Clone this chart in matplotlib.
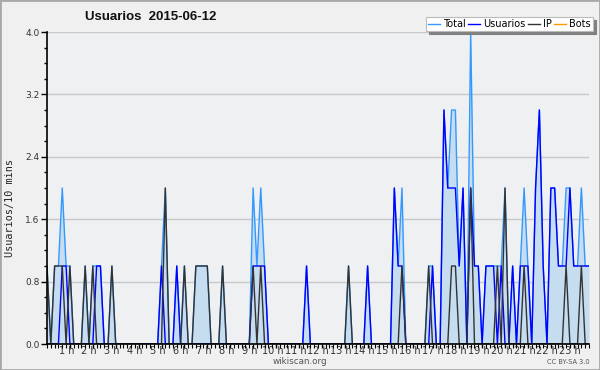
import numpy as np
import matplotlib
matplotlib.use("Agg")
import matplotlib.pyplot as plt
from matplotlib.patches import Rectangle
from matplotlib.transforms import ScaledTranslation
from matplotlib.ticker import MultipleLocator

# ---- data (10-minute intervals, 2015-06-12) ----
total = [
    1, 0, 1, 1, 2, 1, 1, 0, 0, 0,
    1, 0, 1, 1, 1, 0, 0, 1, 0, 0,
    0, 0, 0, 0, 0, 0, 0, 0, 0, 0,
    1, 2, 0, 0, 1, 0, 1, 0, 0, 1,
    1, 1, 1, 0, 0, 0, 1, 0, 0, 0,
    0, 0, 0, 0, 2, 1, 2, 1, 0, 0,
    0, 0, 0, 0, 0, 0, 0, 0, 1, 0,
    0, 0, 0, 0, 0, 0, 0, 0, 0, 1,
    0, 0, 0, 0, 1, 0, 0, 0, 0, 0,
    0, 2, 1, 2, 0, 0, 0, 0, 0, 0,
    1, 1, 0, 0, 3, 2, 3, 3, 1, 2,
    0, 4, 1, 1, 0, 1, 1, 1, 1, 1,
    2, 0, 1, 0, 1, 2, 1, 0, 2, 3,
    1, 0, 2, 2, 1, 1, 2, 2, 1, 1,
    2, 1, 1]

usuarios = [
    0, 0, 0, 0, 1, 1, 0, 0, 0, 0,
    0, 0, 0, 1, 1, 0, 0, 0, 0, 0,
    0, 0, 0, 0, 0, 0, 0, 0, 0, 0,
    1, 0, 0, 0, 1, 0, 0, 0, 0, 0,
    0, 0, 0, 0, 0, 0, 0, 0, 0, 0,
    0, 0, 0, 0, 1, 1, 1, 1, 0, 0,
    0, 0, 0, 0, 0, 0, 0, 0, 1, 0,
    0, 0, 0, 0, 0, 0, 0, 0, 0, 0,
    0, 0, 0, 0, 1, 0, 0, 0, 0, 0,
    0, 2, 1, 1, 0, 0, 0, 0, 0, 0,
    0, 1, 0, 0, 3, 2, 2, 2, 1, 2,
    0, 2, 1, 1, 0, 1, 1, 1, 0, 1,
    0, 0, 1, 0, 1, 1, 1, 0, 2, 3,
    1, 0, 2, 2, 1, 1, 1, 2, 1, 1,
    1, 1, 1]

ip = [
    1, 0, 1, 1, 1, 0, 1, 0, 0, 0,
    1, 0, 1, 0, 0, 0, 0, 1, 0, 0,
    0, 0, 0, 0, 0, 0, 0, 0, 0, 0,
    0, 2, 0, 0, 0, 0, 1, 0, 0, 1,
    1, 1, 1, 0, 0, 0, 1, 0, 0, 0,
    0, 0, 0, 0, 1, 0, 1, 0, 0, 0,
    0, 0, 0, 0, 0, 0, 0, 0, 0, 0,
    0, 0, 0, 0, 0, 0, 0, 0, 0, 1,
    0, 0, 0, 0, 0, 0, 0, 0, 0, 0,
    0, 0, 0, 1, 0, 0, 0, 0, 0, 0,
    1, 0, 0, 0, 0, 0, 1, 1, 0, 0,
    0, 2, 0, 0, 0, 0, 0, 0, 1, 0,
    2, 0, 0, 0, 0, 1, 0, 0, 0, 0,
    0, 0, 0, 0, 0, 0, 1, 0, 0, 0,
    1, 0, 0]

bots = [
    0, 0, 0, 0, 0, 0, 0, 0, 0, 0,
    0, 0, 0, 0, 0, 0, 0, 0, 0, 0,
    0, 0, 0, 0, 0, 0, 0, 0, 0, 0,
    0, 0, 0, 0, 0, 0, 0, 0, 0, 0,
    0, 0, 0, 0, 0, 0, 0, 0, 0, 0,
    0, 0, 0, 0, 0, 0, 0, 0, 0, 0,
    0, 0, 0, 0, 0, 0, 0, 0, 0, 0,
    0, 0, 0, 0, 0, 0, 0, 0, 0, 0,
    0, 0, 0, 0, 0, 0, 0, 0, 0, 0,
    0, 0, 0, 0, 0, 0, 0, 0, 0, 0,
    0, 0, 0, 0, 0, 0, 0, 0, 0, 0,
    0, 0, 0, 0, 0, 0, 0, 0, 0, 0,
    0, 0, 0, 0, 0, 0, 0, 0, 0, 0,
    0, 0, 0, 0, 0, 0, 0, 0, 0, 0,
    0, 0, 0]

hour_labels = ["1 h", "2 h", "3 h", "4 h", "5 h", "6 h", "7 h", "8 h",
               "9 h", "10 h", "11 h", "12 h", "13 h", "14 h", "15 h", "16 h",
               "17 h", "18 h", "19 h", "20 h", "21 h", "22 h", "23 h"]
y_ticks = [0.0, 0.8, 1.6, 2.4, 3.2, 4.0]
y_tick_labels = ["0.0", "0.8", "1.6", "2.4", "3.2", "4.0"]

title = "Usuarios  2015-06-12"
ylabel = "Usuarios/10 mins"

# ---- figure ----
W, H = 600, 370
fig = plt.figure(figsize=(W / 100, H / 100), dpi=100)
fig.patch.set_facecolor("#f0f0f0")

left, right, top, bottom = 47, 589, 32, 344
ax = fig.add_axes([left / W, 1 - bottom / H, (right - left) / W, (bottom - top) / H])
ax.set_facecolor("#eff0f2")

x = np.arange(len(total))

for yt in y_ticks[1:]:
    ax.axhline(yt, color="#c8c8c8", lw=1, zorder=1)

ax.fill_between(x, 0, total, color="#c6dcef", lw=0, zorder=2)
ax.plot(x, total, color="#3399ff", lw=1, zorder=3, label="Total")
ax.plot(x, usuarios, color="#0000ff", lw=1, zorder=4, label="Usuarios")
ax.plot(x, ip, color="#333333", lw=1, zorder=5, label="IP")
ax.plot(x, bots, color="#ff9900", lw=1, zorder=1.5, label="Bots")

ax.set_xlim(0, len(total) - 1)
ax.set_ylim(0, 4.0)

for s in ["top", "right"]:
    ax.spines[s].set_visible(False)
for s in ["left", "bottom"]:
    ax.spines[s].set_color("black")
    ax.spines[s].set_linewidth(1.2)
    ax.spines[s].set_zorder(6)

ax.set_yticks(y_ticks)
ax.set_yticklabels(y_tick_labels)
ax.yaxis.set_minor_locator(MultipleLocator(0.2))
ax.tick_params(axis="y", which="major", length=4.5, width=1, color="black",
               labelsize=6.5, labelcolor="#333333", pad=1)
ax.tick_params(axis="y", which="minor", length=2.5, width=1, color="black")

ax.set_xticks([6 * (i + 1) for i in range(len(hour_labels))])
ax.set_xticklabels(hour_labels)
ax.xaxis.set_minor_locator(MultipleLocator(1))
ax.tick_params(axis="x", which="major", length=3, width=1, color="black",
               labelsize=7, labelcolor="#333333", pad=-1.5)
ax.tick_params(axis="x", which="minor", length=3, width=0.8, color="black")
offset = ScaledTranslation(-3.5 / 100, 0, fig.dpi_scale_trans)
for lab in ax.get_xticklabels():
    lab.set_transform(lab.get_transform() + offset)

fig.text(10 / W, 1 - 208 / H, ylabel, rotation=90, ha="center", va="center",
         fontsize=7.3, family="DejaVu Sans Mono", color="#222222")
fig.text(85 / W, 1 - 17 / H, title, ha="left", va="center",
         fontsize=9.5, fontweight="bold", family="Liberation Sans", color="#111111")
fig.text(300 / W, 1 - 362 / H, "wikiscan.org", ha="center", va="center",
         fontsize=6.3, color="#555555")
fig.text(590 / W, 1 - 362 / H, "CC BY-SA 3.0", ha="right", va="center",
         fontsize=4.8, color="#555555")

leg = ax.legend(loc="upper right", bbox_to_anchor=(593 / W, 1 - 17 / H),
                bbox_transform=fig.transFigure, ncol=4, fontsize=7,
                frameon=True, fancybox=False, shadow={"color": "#808080", "alpha": 1},
                handlelength=1.2, handletextpad=0.35, columnspacing=0.25,
                borderpad=0.2, borderaxespad=0)
leg.get_frame().set_facecolor("white")
leg.get_frame().set_edgecolor("#bbbbbb")
leg.get_frame().set_linewidth(0.8)
leg.set_zorder(10)

fig.patches.append(Rectangle((0, 0), 1, 1, transform=fig.transFigure, fill=False,
                             edgecolor="#a8a8a8", lw=2))

fig.savefig("out.png", dpi=100, facecolor=fig.get_facecolor())
